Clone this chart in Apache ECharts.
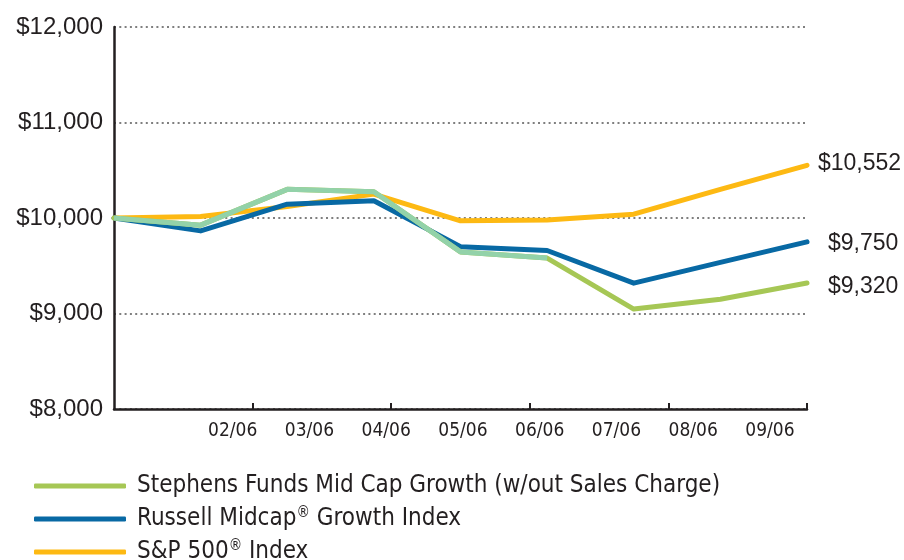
<!DOCTYPE html>
<html lang="en">
<head>
<meta charset="UTF-8">
<title>Growth of $10,000</title>
<script src="https://cdn.jsdelivr.net/npm/echarts@6/dist/echarts.min.js"></script>
<style>
    html, body { margin: 0; padding: 0; background: #fff; }
    #chart { width: 904px; height: 560px; }
</style>
</head>
<body>
<div id="chart"></div>
<script type="text/javascript">
    // month-end values of a $10,000 investment
    var stephens = [10000, 9925, 10300, 10275, 9645, 9580, 9046, 9150, 9320];
    var russell = [10000, 9865, 10145, 10180, 9700, 9660, 9318, 9535, 9750];
    var sp500 = [10000, 10015, 10120, 10250, 9970, 9980, 10040, 10300, 10552];
    var tickLabels = ['02/06', '03/06', '04/06', '05/06', '06/06', '07/06', '08/06', '09/06'];
    var yTicks = [8000, 9000, 10000, 11000, 12000];
    var names = ['Stephens Funds Mid Cap Growth (w/out Sales Charge)', 'Russell Midcap® Growth Index', 'S&P 500® Index'];
    var colors = ['#a6c755', '#0869a4', '#fdb913'];
    var earlyColor = '#93d2a9';   // fund line is drawn lighter up to 06/06
    var earlyPoints = 6;

    var ink = '#231f20';
    var narrow = '"DejaVu Sans Condensed", "Liberation Sans Narrow", sans-serif';
    var plain = '"Liberation Sans", Arial, sans-serif';

    // tick marks every 1.6 periods, labels set on their own spacing
    var tickAt = [1.6, 3.2, 4.8, 6.4, 8];
    var labelAt = tickLabels.map(function (t, i) { return 1.37 + i * 0.886; });

    function pairs(arr) {
        return arr.map(function (v, i) { return [i, v]; });
    }
    function money(v) {
        return '$' + v.toLocaleString('en-US');
    }

    function legendRow(i, top) {
        return {
            orient: 'vertical',
            left: 29,
            top: top,
            icon: 'roundRect',
            itemWidth: 92,
            itemHeight: 5,
            selectedMode: false,
            data: [{ name: names[i], itemStyle: { color: colors[i] } }],
            formatter: function (name) {
                return name.replace('®', '{sup|®}');
            },
            textStyle: {
                fontFamily: narrow,
                fontSize: 24,
                color: ink,
                padding: [0, 0, 0, 6],
                rich: {
                    sup: { fontFamily: narrow, fontSize: 15, color: ink, padding: [0, 0, 11, 0] }
                }
            }
        };
    }

    function endLabel(dist, up) {
        return {
            show: true,
            distance: dist,
            offset: [0, up],
            fontFamily: plain,
            fontSize: 23,
            color: ink,
            formatter: function (p) { return money(p.value[1]); }
        };
    }

    var myChart = echarts.init(document.getElementById('chart'));

    var option = {
        animation: false,
        grid: { left: 114, right: 97, top: 27, bottom: 151 },
        legend: [legendRow(0, 469), legendRow(1, 501), legendRow(2, 534)],
        xAxis: {
            type: 'value',
            min: 0,
            max: 8,
            axisLine: { show: true, lineStyle: { color: ink, width: 2.5 } },
            axisTick: {
                show: true,
                inside: true,
                length: 6,
                customValues: tickAt,
                lineStyle: { color: ink, width: 2 }
            },
            axisLabel: {
                customValues: labelAt,
                margin: 13,
                fontFamily: narrow,
                fontSize: 19,
                color: ink,
                formatter: function (value) {
                    var best = 0;
                    labelAt.forEach(function (p, i) {
                        if (Math.abs(p - value) < Math.abs(labelAt[best] - value)) best = i;
                    });
                    return tickLabels[best];
                }
            },
            splitLine: { show: false }
        },
        yAxis: {
            type: 'value',
            min: yTicks[0],
            max: yTicks[yTicks.length - 1],
            interval: 1000,
            axisLine: { show: true, lineStyle: { color: ink, width: 2.5 } },
            axisTick: { show: false },
            axisLabel: {
                margin: 11,
                fontFamily: plain,
                fontSize: 24,
                color: ink,
                formatter: function (v) { return money(v); }
            },
            splitLine: {
                show: true,
                lineStyle: { color: '#555', width: 1.5, type: [2, 3.3] }
            }
        },
        series: [
            {
                name: names[2],
                type: 'line',
                data: pairs(sp500),
                showSymbol: false,
                lineStyle: { color: colors[2], width: 5, cap: 'round', join: 'round' },
                itemStyle: { color: colors[2] },
                endLabel: endLabel(11, -2)
            },
            {
                name: names[1],
                type: 'line',
                data: pairs(russell),
                showSymbol: false,
                lineStyle: { color: colors[1], width: 5, cap: 'round', join: 'round' },
                itemStyle: { color: colors[1] },
                endLabel: endLabel(21, 2)
            },
            {
                name: names[0],
                type: 'line',
                data: pairs(stephens),
                showSymbol: false,
                lineStyle: { color: colors[0], width: 5, cap: 'round', join: 'round' },
                itemStyle: { color: colors[0] },
                endLabel: endLabel(21, 4)
            },
            {
                name: names[0],
                type: 'line',
                data: pairs(stephens).slice(0, earlyPoints),
                showSymbol: false,
                lineStyle: { color: earlyColor, width: 5, cap: 'butt', join: 'round' },
                itemStyle: { color: earlyColor }
            }
        ]
    };

    myChart.setOption(option);
</script>
</body>
</html>
